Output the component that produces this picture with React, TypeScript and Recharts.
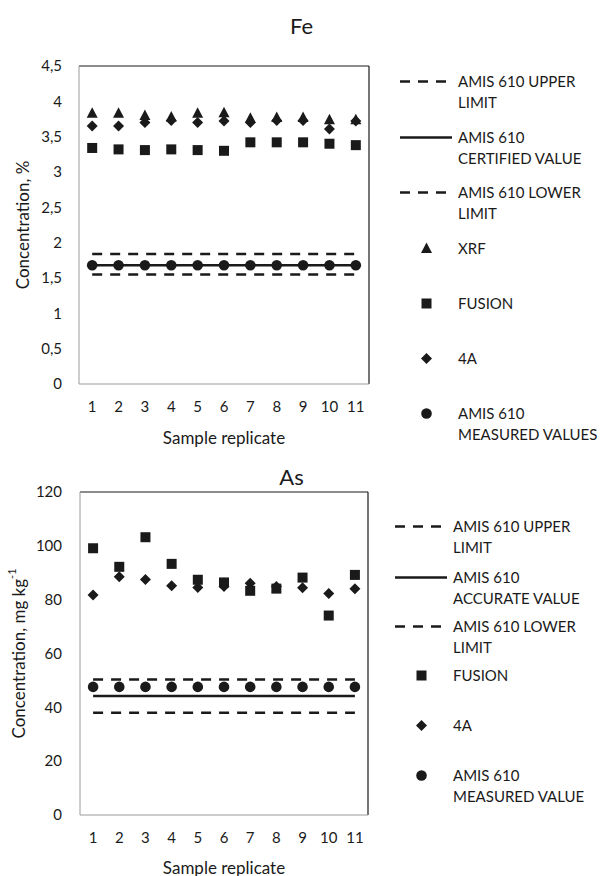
import React from 'react';
import { ComposedChart, Line, XAxis, YAxis, ReferenceLine, Legend } from 'recharts';

const replicates = [1, 2, 3, 4, 5, 6, 7, 8, 9, 10, 11];

// Fe, %
const feXrf = [3.83, 3.83, 3.8, 3.78, 3.83, 3.84, 3.76, 3.77, 3.77, 3.74, 3.74];
const feFusion = [3.34, 3.32, 3.31, 3.32, 3.31, 3.3, 3.42, 3.42, 3.42, 3.4, 3.38];
const fe4A = [3.65, 3.65, 3.7, 3.73, 3.7, 3.72, 3.7, 3.73, 3.73, 3.61, 3.72];
const feMeasured = [1.68, 1.68, 1.68, 1.68, 1.68, 1.68, 1.68, 1.68, 1.68, 1.68, 1.68];
const feUpper = 1.84;
const feCertified = 1.68;
const feLower = 1.55;
const feTicks = [0, 0.5, 1, 1.5, 2, 2.5, 3, 3.5, 4, 4.5];

// As, mg/kg
const asFusion = [99.1, 92.2, 103.2, 93.3, 87.4, 86.4, 83.3, 84.1, 88.2, 74.1, 89.2];
const as4A = [81.7, 88.5, 87.5, 85.2, 84.5, 84.9, 86.1, 84.9, 84.4, 82.3, 84.1];
const asMeasured = [47.6, 47.6, 47.6, 47.6, 47.6, 47.6, 47.6, 47.6, 47.6, 47.6, 47.6];
const asUpper = 50.3;
const asAccurate = 44.2;
const asLower = 38.0;
const asTicks = [0, 20, 40, 60, 80, 100, 120];

const feRows = replicates.map((rep, i) => ({
  rep,
  xrf: feXrf[i],
  fusion: feFusion[i],
  a4: fe4A[i],
  measured: feMeasured[i],
  upper: feUpper,
  certified: feCertified,
  lower: feLower,
}));

const asRows = replicates.map((rep, i) => ({
  rep,
  fusion: asFusion[i],
  a4: as4A[i],
  measured: asMeasured[i],
  upper: asUpper,
  certified: asAccurate,
  lower: asLower,
}));

const FONT = 'Lato, "Open Sans", sans-serif';
const INK = '#1a1a1a';
const DASH = '10 8';

type Kind = 'triangle' | 'square' | 'diamond' | 'circle' | 'dash' | 'solid';

const Marker = ({ kind, cx, cy }: { kind: Kind; cx: number; cy: number }) => {
  if (cx == null || cy == null) return null;
  if (kind === 'triangle')
    return <polygon points={`${cx},${cy - 6} ${cx + 5.5},${cy + 4.5} ${cx - 5.5},${cy + 4.5}`} fill={INK} />;
  if (kind === 'square') return <rect x={cx - 5} y={cy - 5} width={10} height={10} fill={INK} />;
  if (kind === 'diamond')
    return <polygon points={`${cx},${cy - 5.5} ${cx + 5.5},${cy} ${cx},${cy + 5.5} ${cx - 5.5},${cy}`} fill={INK} />;
  return <circle cx={cx} cy={cy} r={5.3} fill={INK} />;
};

const dotOf = (kind: Kind) => (p: any) => <Marker key={`${kind}-${p.index}`} kind={kind} cx={p.cx} cy={p.cy} />;

const YTitle = ({ viewBox, offsetX, main, sup }: any) => {
  const x = viewBox.x + offsetX;
  const y = viewBox.y + viewBox.height / 2;
  return (
    <text x={x} y={y} transform={`rotate(-90 ${x} ${y})`} textAnchor="middle" dominantBaseline="central"
      fontFamily={FONT} fontSize={17} fill={INK}>
      {main}
      {sup && <tspan dy={-7} fontSize={11}>{sup}</tspan>}
    </text>
  );
};

const XTitle = ({ viewBox, offsetY }: any) => (
  <text x={viewBox.x + viewBox.width / 2} y={viewBox.y + offsetY} textAnchor="middle" dominantBaseline="central"
    fontFamily={FONT} fontSize={17} fill={INK}>
    Sample replicate
  </text>
);

type LegendItem = { kind: Kind; lines: string[]; y: number };

const feLegend: LegendItem[] = [
  { kind: 'dash', lines: ['AMIS 610 UPPER', 'LIMIT'], y: 81 },
  { kind: 'solid', lines: ['AMIS 610', 'CERTIFIED VALUE'], y: 137 },
  { kind: 'dash', lines: ['AMIS 610 LOWER', 'LIMIT'], y: 192 },
  { kind: 'triangle', lines: ['XRF'], y: 248 },
  { kind: 'square', lines: ['FUSION'], y: 303 },
  { kind: 'diamond', lines: ['4A'], y: 358 },
  { kind: 'circle', lines: ['AMIS 610', 'MEASURED VALUES'], y: 413 },
];

const asLegend: LegendItem[] = [
  { kind: 'dash', lines: ['AMIS 610 UPPER', 'LIMIT'], y: 86 },
  { kind: 'solid', lines: ['AMIS 610', 'ACCURATE VALUE'], y: 137 },
  { kind: 'dash', lines: ['AMIS 610 LOWER', 'LIMIT'], y: 186 },
  { kind: 'square', lines: ['FUSION'], y: 235 },
  { kind: 'diamond', lines: ['4A'], y: 285 },
  { kind: 'circle', lines: ['AMIS 610', 'MEASURED VALUE'], y: 335 },
];

const LINE_H = 21;

const LegendBlock = ({ items, iconX, textX }: { items: LegendItem[]; iconX: number; textX: number }) => (
  <div style={{ position: 'relative', width: 0, height: 0, fontFamily: FONT, fontSize: 15, color: INK }}>
    {items.map((it, i) => (
      <div key={i} style={{ position: 'absolute', left: 0, top: it.y - LINE_H / 2, width: 603 }}>
        <svg width={54} height={LINE_H} style={{ position: 'absolute', left: iconX, top: 0 }}>
          {it.kind === 'dash' || it.kind === 'solid' ? (
            <line x1={0} y1={LINE_H / 2} x2={52} y2={LINE_H / 2} stroke={INK} strokeWidth={2.5}
              strokeDasharray={it.kind === 'dash' ? DASH : undefined} />
          ) : (
            <Marker kind={it.kind} cx={26.5} cy={LINE_H / 2} />
          )}
        </svg>
        <div style={{ position: 'absolute', left: textX, top: 0, lineHeight: `${LINE_H}px`, whiteSpace: 'nowrap' }}>
          {it.lines.map((l, j) => (
            <div key={j}>{l}</div>
          ))}
        </div>
      </div>
    ))}
  </div>
);

const tickStyle = { fontFamily: FONT, fontSize: 15, fill: INK };

const limitLine = (key: string, dashed: boolean) => (
  <Line key={key} type="linear" dataKey={key} stroke={INK} strokeWidth={2.5}
    strokeDasharray={dashed ? DASH : undefined} dot={false} activeDot={false} isAnimationActive={false} />
);

const markerLine = (key: string, kind: Kind) => (
  <Line key={key} type="linear" dataKey={key} stroke="none" dot={dotOf(kind)} activeDot={false}
    isAnimationActive={false} />
);

const legendWrap = { left: 0, top: 0, width: 0, height: 0, overflow: 'visible' as const };

const App: React.FC = () => {
  return (
    <div style={{ position: 'absolute', left: 0, top: 0, width: 603, height: 876, background: '#fff' }}>
      <div style={{ position: 'absolute', left: 0, top: 8, width: 603, textAlign: 'center', fontFamily: FONT, fontSize: 22, color: INK, lineHeight: '36px' }}>
        Fe
      </div>
      <div style={{ position: 'absolute', left: 0, top: 0 }}>
        <ComposedChart width={603} height={450} data={feRows} margin={{ top: 66, right: 234, left: 0, bottom: 0 }}>
          <XAxis dataKey="rep" type="number" domain={[0.5, 11.5]} ticks={replicates} interval={0}
            tickLine={false} tickSize={0} tickMargin={17} axisLine={{ stroke: '#9a9a9a' }} tick={tickStyle}
            height={66} label={<XTitle offsetY={53} />} />
          <YAxis type="number" domain={[0, 4.5]} ticks={feTicks} interval={0}
            tickFormatter={(v: number) => String(v).replace('.', ',')}
            tickLine={false} tickSize={0} tickMargin={17} axisLine={{ stroke: '#9a9a9a' }} tick={tickStyle}
            width={79} label={<YTitle offsetX={22} main="Concentration, %" />} />
          <ReferenceLine y={4.5} stroke={INK} strokeWidth={1.2} />
          <ReferenceLine x={11.5} stroke={INK} strokeWidth={1.2} />
          {limitLine('upper', true)}
          {limitLine('certified', false)}
          {limitLine('lower', true)}
          {markerLine('measured', 'circle')}
          {markerLine('fusion', 'square')}
          {markerLine('a4', 'diamond')}
          {markerLine('xrf', 'triangle')}
          <Legend layout="horizontal" verticalAlign="middle" align="center" wrapperStyle={legendWrap}
            content={() => <LegendBlock items={feLegend} iconX={400} textX={458} />} />
        </ComposedChart>
      </div>

      <div style={{ position: 'absolute', left: 0, top: 440 }}>
        <ComposedChart width={603} height={436} data={asRows} margin={{ top: 52, right: 235, left: 0, bottom: 0 }}>
          <XAxis dataKey="rep" type="number" domain={[0.5, 11.5]} ticks={replicates} interval={0}
            tickLine={false} tickSize={0} tickMargin={17} axisLine={{ stroke: '#9a9a9a' }} tick={tickStyle}
            height={61} label={<XTitle offsetY={52} />} />
          <YAxis type="number" domain={[0, 120]} ticks={asTicks} interval={0}
            tickLine={false} tickSize={0} tickMargin={18} axisLine={{ stroke: '#9a9a9a' }} tick={tickStyle}
            width={80} label={<YTitle offsetX={18} main="Concentration, mg kg" sup="-1" />} />
          <ReferenceLine y={120} stroke={INK} strokeWidth={1.2} />
          <ReferenceLine x={11.5} stroke={INK} strokeWidth={1.2} />
          {limitLine('upper', true)}
          {limitLine('certified', false)}
          {limitLine('lower', true)}
          {markerLine('measured', 'circle')}
          {markerLine('a4', 'diamond')}
          {markerLine('fusion', 'square')}
          <Legend layout="horizontal" verticalAlign="middle" align="center" wrapperStyle={legendWrap}
            content={() => <LegendBlock items={asLegend} iconX={395} textX={453} />} />
        </ComposedChart>
      </div>
      <div style={{ position: 'absolute', left: 0, top: 459, width: 603, textAlign: 'center', fontFamily: FONT, fontSize: 22, color: INK, lineHeight: '36px' }}>
        <span style={{ position: 'relative', left: -10 }}>As</span>
      </div>
    </div>
  );
};

export default App;
